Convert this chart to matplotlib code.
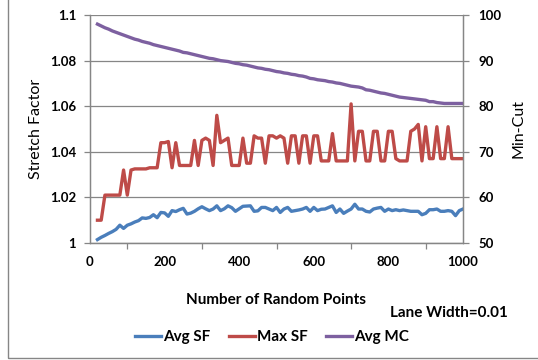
import numpy as np
import matplotlib
matplotlib.use("Agg")
import matplotlib.pyplot as plt
from matplotlib.patches import Rectangle
from matplotlib.ticker import MultipleLocator, FixedLocator

plt.rcParams['font.family'] = ['Lato', 'DejaVu Sans']

# --- dados ---
pontos = list(range(20, 1001, 10))

avg_sf = [1.0015, 1.0025, 1.0033, 1.0042, 1.0050, 1.0060, 1.0078, 1.0064, 1.0078, 1.0084,
          1.0092, 1.0098, 1.0110, 1.0108, 1.0112, 1.0124, 1.0111, 1.0134, 1.0132, 1.0117,
          1.0142, 1.0138, 1.0146, 1.0152, 1.0127, 1.0131, 1.0139, 1.0150, 1.0159, 1.0150,
          1.0142, 1.0149, 1.0163, 1.0142, 1.0150, 1.0163, 1.0155, 1.0139, 1.0150, 1.0161,
          1.0162, 1.0163, 1.0139, 1.0141, 1.0156, 1.0156, 1.0149, 1.0142, 1.0156, 1.0134,
          1.0149, 1.0156, 1.0139, 1.0142, 1.0145, 1.0149, 1.0156, 1.0139, 1.0156, 1.0142,
          1.0148, 1.0149, 1.0156, 1.0163, 1.0134, 1.0149, 1.0130, 1.0140, 1.0149, 1.0170,
          1.0149, 1.0149, 1.0139, 1.0136, 1.0149, 1.0153, 1.0156, 1.0139, 1.0149, 1.0142,
          1.0146, 1.0142, 1.0145, 1.0142, 1.0139, 1.0139, 1.0139, 1.0124, 1.0130, 1.0146,
          1.0146, 1.0149, 1.0139, 1.0139, 1.0142, 1.0139, 1.0120, 1.0142, 1.0149]

max_sf = [1.010, 1.010, 1.021, 1.021, 1.021, 1.021, 1.021, 1.032, 1.021, 1.032,
          1.0325, 1.0325, 1.0325, 1.0325, 1.033, 1.033, 1.033, 1.044, 1.044, 1.0445,
          1.033, 1.044, 1.034, 1.034, 1.034, 1.034, 1.045, 1.034, 1.045, 1.046,
          1.045, 1.034, 1.056, 1.044, 1.045, 1.046, 1.034, 1.034, 1.034, 1.046,
          1.035, 1.035, 1.047, 1.046, 1.046, 1.035, 1.047, 1.047, 1.046, 1.047,
          1.046, 1.035, 1.047, 1.047, 1.035, 1.047, 1.047, 1.035, 1.047, 1.047,
          1.036, 1.036, 1.036, 1.048, 1.036, 1.036, 1.036, 1.036, 1.061, 1.036,
          1.049, 1.049, 1.036, 1.036, 1.049, 1.049, 1.036, 1.036, 1.049, 1.049,
          1.037, 1.036, 1.036, 1.036, 1.049, 1.050, 1.052, 1.036, 1.051, 1.037,
          1.037, 1.051, 1.037, 1.037, 1.051, 1.037, 1.037, 1.037, 1.037]

avg_mc = [98.0, 97.6, 97.2, 96.9, 96.5, 96.2, 95.9, 95.6, 95.3, 95.0,
          94.7, 94.5, 94.2, 94.0, 93.8, 93.5, 93.3, 93.1, 92.9, 92.7,
          92.5, 92.3, 92.1, 91.8, 91.7, 91.5, 91.3, 91.1, 90.9, 90.7,
          90.5, 90.4, 90.2, 90.0, 89.9, 89.8, 89.6, 89.4, 89.3, 89.1,
          89.0, 88.8, 88.6, 88.4, 88.3, 88.1, 88.0, 87.8, 87.6, 87.5,
          87.3, 87.2, 87.0, 86.9, 86.7, 86.6, 86.4, 86.1, 86.0, 85.8,
          85.7, 85.6, 85.4, 85.3, 85.1, 85.0, 84.8, 84.6, 84.4, 84.3,
          84.2, 84.0, 83.6, 83.5, 83.3, 83.1, 82.9, 82.8, 82.6, 82.4,
          82.2, 82.0, 81.9, 81.8, 81.7, 81.6, 81.5, 81.4, 81.3, 81.0,
          81.0, 80.8, 80.7, 80.6, 80.6, 80.6, 80.6, 80.6, 80.6]

COR_SF = '#4a7ebb'
COR_MAX = '#be4b48'
COR_MC = '#7d60a0'
CINZA = '#868686'

fig = plt.figure(figsize=(5.38, 3.6), dpi=100)
ax = fig.add_axes([90/538, 1-243/360, 373/538, 228/360])
ax2 = ax.twinx()

l1, = ax.plot(pontos, avg_sf, color=COR_SF, lw=2.4, label='Avg SF')
l2, = ax.plot(pontos, max_sf, color=COR_MAX, lw=2.4, label='Max SF')
l3, = ax2.plot(pontos, avg_mc, color=COR_MC, lw=2.4, label='Avg MC')

ax.set_xlim(0, 1000)
ax.set_ylim(1.0, 1.1)
ax2.set_ylim(50, 100)
ax.xaxis.set_major_locator(MultipleLocator(200))
ax.xaxis.set_minor_locator(MultipleLocator(100))
ax.yaxis.set_major_locator(FixedLocator([1.0, 1.02, 1.04, 1.06, 1.08, 1.1]))
ax.set_yticklabels(['1', '1.02', '1.04', '1.06', '1.08', '1.1'])
ax2.yaxis.set_major_locator(MultipleLocator(10))

ax.grid(axis='y', color=CINZA, lw=0.9)
ax.set_axisbelow(True)
for a in (ax, ax2):
    a.spines['top'].set_visible(False)
    for s in ('left', 'right', 'bottom'):
        a.spines[s].set_color(CINZA)
        a.spines[s].set_linewidth(0.9)
ax.tick_params(axis='both', which='both', length=4, color=CINZA, width=0.9,
               labelsize=9.5, pad=6)
ax.tick_params(axis='x', which='major', length=0, pad=9)
ax2.tick_params(axis='y', length=4, color=CINZA, width=0.9, labelsize=9.5, pad=7)
for lab in ax.get_xticklabels() + ax.get_yticklabels() + ax2.get_yticklabels():
    lab.set_fontweight('bold')

ax.set_ylabel('Stretch Factor', fontsize=11.5, labelpad=5)
ax2.set_ylabel('Min-Cut', fontsize=11.5, labelpad=7)
ax.set_xlabel('Number of Random Points', fontsize=11, fontweight='bold', labelpad=18)

fig.text(508/538, 1-313/360, 'Lane Width=0.01', fontsize=11, fontweight='bold',
         ha='right', va='center')

fig.legend(handles=[l1, l2, l3], loc='center', bbox_to_anchor=(272/538, 1-337/360),
           ncol=3, frameon=False, handlelength=1.7, handletextpad=0.15,
           columnspacing=1.2, prop={'size': 11, 'weight': 'bold'})

fig.patches.append(Rectangle((8/538, 2/360), 1.2, 1.2, transform=fig.transFigure,
                             fill=False, edgecolor=CINZA, lw=1.0))

fig.savefig('out.png', dpi=100)
